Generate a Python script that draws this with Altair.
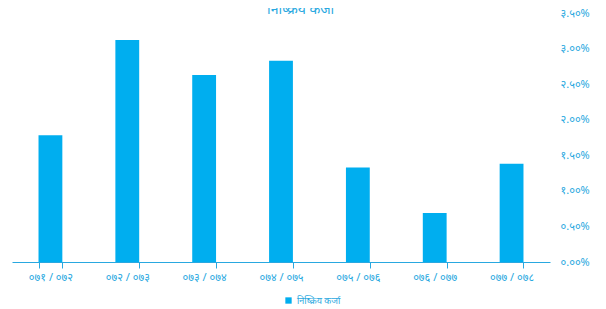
import altair as alt
import pandas as pd

categories = ["०७१ / ०७२", "०७२ / ०७३", "०७३ / ०७४", "०७४ / ०७५", "०७५ / ०७६", "०७६ / ०७७", "०७७ / ०७८"]
values = [1.78, 3.12, 2.63, 2.83, 1.33, 0.69, 1.38]
series_name = "निष्क्रिय कर्जा"
title_text = "निष्क्रिय कर्जा"
y_tick_values = [0, 0.5, 1, 1.5, 2, 2.5, 3, 3.5]
y_tick_labels = ["०.००%", "०.५०%", "१.००%", "१.५०%", "२.००%", "२.५०%", "३.००%", "३.५०%"]

df = pd.DataFrame({"period": categories, "value": values, "series": [series_name] * len(values)})

label_obj = "{" + ",".join(f"'{v:g}':'{l}'" for v, l in zip(y_tick_values, y_tick_labels)) + "}"
label_expr = f"{label_obj}[datum.value + '']"

bar_color = "#00AEEF"
text_color = "#29A8E0"
font = "Noto Sans"

chart = alt.Chart(df).mark_bar(color=bar_color).encode(
    x=alt.X("period:N", sort=None, title=None,
            scale=alt.Scale(paddingInner=0.69, paddingOuter=0.345),
            axis=alt.Axis(labelAngle=0, labelColor=text_color, labelFontSize=11, labelFont=font,
                          domainColor=text_color, tickColor=text_color, tickBand="extent",
                          tickSize=6, labelPadding=3)),
    y=alt.Y("value:Q", title=None,
            scale=alt.Scale(domain=[0, 3.5], nice=False),
            axis=alt.Axis(orient="right", values=y_tick_values, labelExpr=label_expr,
                          labelColor=text_color, labelFontSize=11, labelFont=font,
                          domain=False, ticks=False, grid=False, labelPadding=10)),
    color=alt.Color("series:N", scale=alt.Scale(range=[bar_color]),
                    legend=alt.Legend(title=None, orient="none", legendX=272, legendY=283,
                                      symbolType="square", symbolSize=40, labelFontSize=9,
                                      labelColor=text_color, labelFont=font)),
).properties(
    width=538, height=249,
    title=alt.TitleParams(title_text, color=text_color, fontSize=14, fontWeight="normal",
                          font=font, anchor="middle", frame="bounds", offset=-10),
    autosize=alt.AutoSizeParams(type="none"),
    padding={"left": 4, "top": 5, "right": 48, "bottom": 47},
).configure_view(stroke=None)

chart.save("out.html", embed_options={"renderer": "svg", "actions": False})
